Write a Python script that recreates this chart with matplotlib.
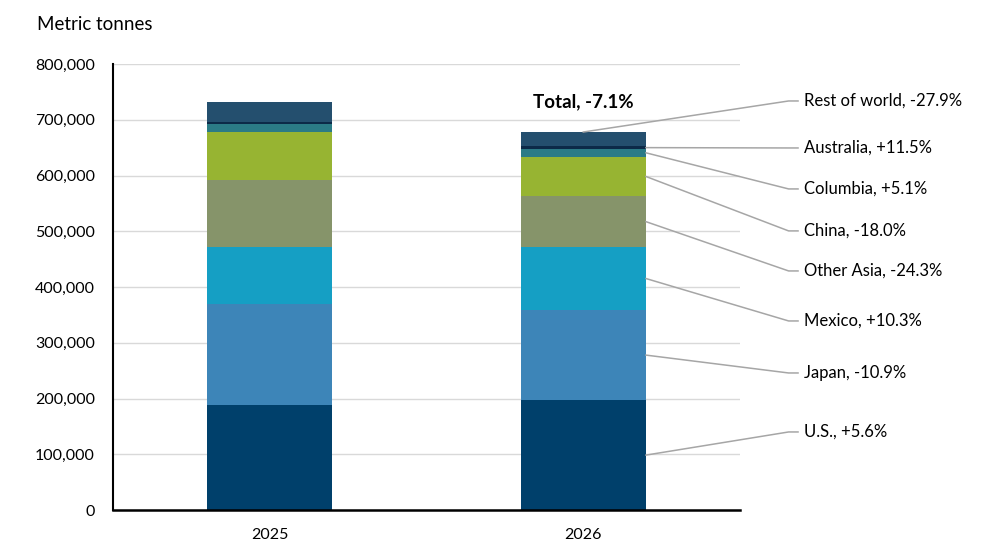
import matplotlib
matplotlib.use("Agg")
import matplotlib.pyplot as plt
import numpy as np

plt.rcParams['font.family'] = ['Lato', 'DejaVu Sans']

years = ["2025", "2026"]
series = ["U.S.", "Japan", "Mexico", "Other Asia", "China", "Columbia", "Australia", "Rest of world"]
values_2025 = [187800, 181500, 102500, 120000, 86500, 13300, 4100, 35700]
values_2026 = [197000, 161700, 113000, 91000, 71000, 14000, 4600, 25700]
changes = ["+5.6%", "-10.9%", "+10.3%", "-24.3%", "-18.0%", "+5.1%", "+11.5%", "-27.9%"]
total_label = "Total, -7.1%"
y_label = "Metric tonnes"
colors = ["#00406b", "#3d85b8", "#159fc4", "#86946a", "#97b432", "#2b7b86", "#0c2a48", "#244f6e"]
# label vertical positions (layout, in data units)
label_y = [140000, 245800, 339100, 428800, 500600, 575900, 649400, 733700]

fig = plt.figure(figsize=(9.92, 5.58), dpi=100)
ax = fig.add_axes([0.1139, 0.086, 0.746 - 0.1139, 0.8853 - 0.086])

data = np.array([values_2025, values_2026], dtype=float)
x = np.arange(len(years))
width = 0.4
bottom = np.zeros(len(years))
for i, s in enumerate(series):
    ax.bar(x, data[:, i], width, bottom=bottom, color=colors[i],
           edgecolor='none', linewidth=0, zorder=3)
    bottom += data[:, i]

ax.set_xlim(-0.5, 1.5)
ax.set_ylim(0, 800000)
ax.set_yticks(np.arange(0, 800001, 100000))
ax.set_yticklabels([f"{int(v):,}" for v in np.arange(0, 800001, 100000)])
ax.set_xticks(x)
ax.set_xticklabels(years)
ax.tick_params(axis='y', length=0, pad=13, labelsize=11.5)
ax.tick_params(axis='x', length=0, pad=13, labelsize=11.5)
ax.grid(axis='y', color='#d9d9d9', linewidth=1, zorder=0)
for side in ['top', 'right']:
    ax.spines[side].set_visible(False)
ax.spines['left'].set_color('black')
ax.spines['left'].set_linewidth(1.5)
ax.spines['bottom'].set_color('black')
ax.spines['bottom'].set_linewidth(1.8)
ax.spines['bottom'].set_zorder(4)

# leader lines & labels for 2026
cum = np.cumsum(values_2026)
starts = cum - np.array(values_2026) / 2
x_edge = 1 + width / 2
x_elbow = 1.655
x_end = 1.685
x_text = 1.703
for i, s in enumerate(series):
    if i == len(series) - 1:
        sx, sy = 1.0, cum[-1]
    else:
        sx, sy = x_edge, starts[i]
    ax.plot([sx, x_elbow, x_end], [sy, label_y[i], label_y[i]],
            color='#a6a6a6', linewidth=1.1, clip_on=False, zorder=5)
    ax.text(x_text, label_y[i], f"{s}, {changes[i]}", ha='left', va='center',
            fontsize=12, color='black', clip_on=False)

ax.text(1.0, cum[-1] + 55000, total_label, ha='center', va='center',
        fontsize=13.5, fontweight='bold', color='black')

fig.text(37 / 992, 1 - 25 / 558, y_label, ha='left', va='center', fontsize=13.5)

fig.savefig("out.png", dpi=100)
